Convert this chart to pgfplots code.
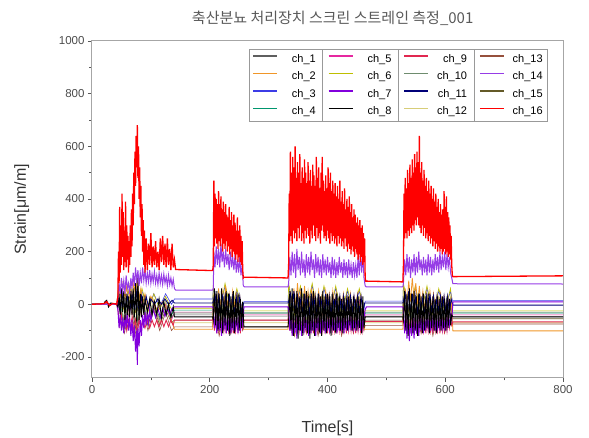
\documentclass[border=0pt]{standalone}
\usepackage{fontspec}
\setmainfont{Liberation Sans}
\newfontfamily\cjk{Noto Sans CJK KR}
\usepackage{pgfplots}
\usepackage{pgfplotstable}
\pgfplotsset{compat=1.18}

\definecolor{chA}{RGB}{95,95,95}
\definecolor{chB}{RGB}{240,150,40}
\definecolor{chC}{RGB}{60,60,230}
\definecolor{chD}{RGB}{0,150,110}
\definecolor{chE}{RGB}{230,40,160}
\definecolor{chF}{RGB}{190,190,0}
\definecolor{chG}{RGB}{130,0,220}
\definecolor{chH}{RGB}{0,0,0}
\definecolor{chI}{RGB}{225,40,80}
\definecolor{chJ}{RGB}{110,140,110}
\definecolor{chK}{RGB}{0,0,120}
\definecolor{chL}{RGB}{215,205,120}
\definecolor{chM}{RGB}{150,80,60}
\definecolor{chN}{RGB}{150,60,230}
\definecolor{chO}{RGB}{100,90,40}
\definecolor{chP}{RGB}{255,0,0}

% minor channels: t, ch1 ch3 ch4 ch5 ch6 ch10 ch12 ch13 ch15
\pgfplotstableread{
t    a    b    c    d    e    f    g    h    i
0    0    0    0    0    0    0    0    0    0
42   0    0    0    0    0    0    0    0    0
45   30   60   20   20   70   10   40   0    10
55  -70  -20  -60  -90  -30  -70  -60  -110 -90
65   40   70   30   10   80   20   30  -10   20
75  -80  -30  -70  -100 -40  -80  -70  -120 -100
85   20   50   10   20   60   0    40   0    0
95  -60  -20  -50  -80  -30  -60  -60  -100 -80
105  10   40   0    0    40  -10   20  -20  -10
115 -60  -10  -50  -70  -20  -60  -70  -100 -80
125  10   40   0    0    30  -10   10  -30  -20
135 -50   0   -40  -60  -20  -50  -70  -100 -70
140 -40   20  -22  -30  -15  -33  -70  -86  -60
205 -40   20  -22  -30  -15  -33  -70  -86  -60
206  30   60   20   20   70   10   40   0    10
216 -80  -30  -70  -100 -40  -70  -70  -120 -100
226  40   70   30   10   80   20   30  -10   20
236 -70  -20  -60  -90  -30  -80  -60  -110 -90
246  30   50   20   20   60   10   40   0    10
256 -60  -20  -50  -80  -30  -60  -60  -100 -80
258 -45   10  -33  -40  -25  -33  -70  -86  -60
333 -45   10  -33  -40  -25  -33  -70  -86  -60
334  40   70   30   20   80   20   40   0    20
344 -80  -30  -70  -100 -40  -80  -70  -120 -100
354  30   60   20   10   70   10   30  -10   10
364 -70  -20  -60  -90  -30  -70  -60  -110 -90
374  40   70   30   20   80   20   40   0    20
384 -80  -30  -70  -100 -40  -80  -70  -120 -100
394  30   60   20   10   70   10   30  -10   10
404 -70  -20  -60  -90  -30  -70  -60  -110 -90
414  30   60   20   20   70   10   40   0    10
424 -80  -30  -70  -100 -40  -80  -70  -120 -100
434  20   50   10   10   60   0    30  -10   0
444 -70  -20  -60  -90  -30  -70  -60  -110 -90
454  20   50   10   10   60   0    30  -10   0
462 -60  -20  -50  -80  -30  -60  -60  -100 -80
464 -45   12  -33  -40  -25  -30  -70  -80  -60
528 -45   12  -33  -40  -25  -30  -70  -80  -60
529  40   70   30   20   80   20   40   0    20
539 -80  -30  -70  -100 -40  -80  -70  -120 -100
549  30   60   20   10   70   10   30  -10   10
559 -70  -20  -60  -90  -30  -70  -60  -110 -90
569  30   60   20   20   70   10   40   0    10
579 -80  -30  -70  -100 -40  -80  -70  -120 -100
589  20   50   10   10   60   0    30  -10   0
599 -70  -20  -60  -90  -30  -70  -60  -110 -90
609  20   50   10   10   60   0    30  -10   0
612 -48   15  -33  -40  -25  -30  -70  -75  -55
800 -48   15  -33  -40  -25  -30  -70  -75  -55
}\minor

\begin{document}
\begin{tikzpicture}
\begin{axis}[
  scale only axis, width=471pt, height=337pt,
  xmin=0, xmax=800, ymin=-280, ymax=1000,
  xtick={0,200,...,800}, ytick={-200,0,...,1000},
  minor x tick num=1, minor y tick num=1,
  tick align=outside, xtick pos=bottom, ytick pos=left,
  major tick length=4pt, minor tick length=2.5pt,
  axis line style={gray!70, line width=1pt},
  every tick/.style={gray!70!black, line width=0.6pt},
  tick label style={font=\fontsize{11.5}{13}\selectfont, text=black!70},
  /pgf/number format/assume math mode=true,
  /pgf/number format/1000 sep={},
  xlabel={Time[s]}, ylabel={Strain[μm/m]},
  label style={font=\fontsize{16}{18}\selectfont, text=black!80},
  xlabel style={at={(axis description cs:0.5,-0.148)}, anchor=center, yshift=0pt},
  ylabel style={at={(axis description cs:-0.149,0.5)}, anchor=center, yshift=0pt},
  title={\cjk 축산분뇨 처리장치 스크린 스트레인 측정\_001},
  title style={font=\fontsize{15}{17}\selectfont, text=black!65,
    at={(axis description cs:0.511,1.05)}, anchor=center, yshift=0pt},
  legend columns=4,
  legend image code/.code={\draw[#1, line width=1.6pt] (0pt,3pt) -- (24pt,3pt);},
  legend style={at={(rel axis cs:0.333,0.976)}, anchor=north west, name=leg,
    draw=gray!80, line width=0.8pt, font=\fontsize{11}{12}\selectfont,
    inner sep=3pt, row sep=4pt,
    /tikz/every even column/.append style={column sep=10pt}},
  every axis plot/.append style={line width=0.6pt},
]
% minor channels
\addplot[chA, forget plot] table[x=t, y=a] {\minor};
\addplot[chC, forget plot] table[x=t, y=b] {\minor};
\addplot[chD, forget plot] table[x=t, y=c] {\minor};
\addplot[chE, forget plot] table[x=t, y=d] {\minor};
\addplot[chF, forget plot] table[x=t, y=e] {\minor};
\addplot[chJ, forget plot] table[x=t, y=f] {\minor};
\addplot[chL, forget plot] table[x=t, y=g] {\minor};
\addplot[chM, forget plot] table[x=t, y=h] {\minor};
\addplot[chO, forget plot] table[x=t, y=i] {\minor};

% ch_2 orange
\addplot[chB, line width=0.8pt, forget plot] coordinates {
(0,0) (42,0) (44,10) (47,60) (50,10) (53,90) (56,20) (59,70) (62,10) (65,60) (68,20) (71,80) (74,30) (77,110) (80,20) (83,60) (86,0) (90,40) (95,-10) (100,30) (110,-20) (120,10) (130,-30) (140,-95) (205,-95)
(206,-40) (209,40) (212,-20) (215,60) (218,-10) (221,50) (224,-20) (227,70) (230,-10) (233,40) (236,-20) (239,50) (242,-10) (245,40) (248,-20) (251,30) (254,-30) (257,-95) (333,-95)
(334,-40) (337,50) (340,-20) (343,60) (346,-10) (349,80) (352,0) (355,60) (358,-20) (361,70) (364,-10) (367,50) (370,-20) (373,60) (376,-10) (379,40) (382,-20) (385,50) (388,-10) (391,40) (394,-20) (397,50) (400,-10) (403,40) (406,-20) (409,50) (412,-10) (415,40) (418,-20) (421,30) (424,-10) (427,40) (430,-20) (433,30) (436,-10) (439,40) (442,-20) (445,30) (448,-10) (451,40) (454,-20) (457,30) (460,-10) (463,-95) (528,-95)
(529,-40) (532,60) (535,0) (538,90) (541,10) (544,100) (547,20) (550,80) (553,0) (556,70) (559,-10) (562,50) (565,-20) (568,40) (571,-10) (574,50) (577,-20) (580,40) (583,-10) (586,30) (589,-20) (592,40) (595,-10) (598,30) (601,-20) (604,30) (607,-10) (610,20) (613,-101) (800,-101)
};

% ch_9 lower red band
\addplot[chI, line width=0.9pt, forget plot] coordinates {
(0,0) (42,0) (44,-20) (47,-80) (50,-40) (53,-90) (56,-50) (59,-100) (62,-60) (65,-90) (68,-50) (71,-100) (74,-60) (77,-110) (80,-60) (83,-90) (86,-60) (90,-90) (94,-60) (98,-90) (102,-60) (106,-85) (110,-60) (114,-85) (118,-60) (122,-85) (126,-60) (130,-85) (134,-60) (138,-80) (140,-60) (205,-60)
(206,-50) (208,-100) (210,-50) (212,-110) (214,-60) (216,-100) (218,-50) (220,-110) (222,-60) (224,-100) (226,-50) (228,-110) (230,-60) (232,-100) (234,-50) (236,-100) (238,-60) (240,-110) (242,-50) (244,-100) (246,-60) (248,-100) (250,-50) (252,-110) (254,-60) (256,-90) (258,-60) (333,-60)
(334,-50) (336,-100) (338,-40) (340,-110) (342,-60) (344,-100) (346,-50) (348,-110) (350,-60) (352,-100) (354,-50) (356,-110) (358,-60) (360,-100) (362,-50) (364,-100) (366,-60) (368,-110) (370,-50) (372,-100) (374,-60) (376,-110) (378,-50) (380,-100) (382,-60) (384,-100) (386,-50) (388,-110) (390,-60) (392,-100) (394,-50) (396,-100) (398,-60) (400,-110) (402,-50) (404,-100) (406,-60) (408,-100) (410,-50) (412,-100) (414,-60) (416,-110) (418,-50) (420,-100) (422,-60) (424,-100) (426,-50) (428,-100) (430,-60) (432,-110) (434,-50) (436,-100) (438,-60) (440,-100) (442,-50) (444,-100) (446,-60) (448,-110) (450,-50) (452,-100) (454,-60) (456,-100) (458,-50) (460,-100) (462,-60) (464,-65) (528,-65)
(529,-50) (531,-100) (533,-50) (535,-110) (537,-60) (539,-100) (541,-50) (543,-110) (545,-60) (547,-100) (549,-50) (551,-100) (553,-60) (555,-110) (557,-50) (559,-100) (561,-60) (563,-100) (565,-50) (567,-110) (569,-60) (571,-100) (573,-50) (575,-100) (577,-60) (579,-110) (581,-50) (583,-100) (585,-60) (587,-100) (589,-50) (591,-110) (593,-60) (595,-100) (597,-50) (599,-100) (601,-60) (603,-100) (605,-50) (607,-90) (609,-60) (611,-80) (613,-67) (800,-67)
};

% ch_11 navy
\addplot[chK, line width=0.9pt, forget plot] coordinates {
(0,0) (42,0) (44,10) (48,-30) (52,40) (56,-20) (60,30) (64,-30) (68,40) (72,-20) (76,50) (80,-30) (84,30) (88,-20) (92,30) (96,-10) (100,20) (106,0) (112,20) (118,0) (124,20) (130,0) (136,15) (140,5) (205,5)
(206,10) (209,40) (212,-30) (215,30) (218,-40) (221,40) (224,-30) (227,30) (230,-40) (233,40) (236,-30) (239,30) (242,-40) (245,30) (248,-30) (251,30) (254,-30) (257,5) (333,5)
(334,10) (337,40) (340,-30) (343,50) (346,-40) (349,40) (352,-30) (355,30) (358,-40) (361,40) (364,-30) (367,30) (370,-40) (373,40) (376,-30) (379,30) (382,-40) (385,40) (388,-30) (391,30) (394,-40) (397,40) (400,-30) (403,30) (406,-40) (409,30) (412,-30) (415,40) (418,-30) (421,30) (424,-40) (427,30) (430,-30) (433,30) (436,-40) (439,30) (442,-30) (445,30) (448,-30) (451,30) (454,-30) (457,30) (460,-30) (463,5) (528,5)
(529,10) (532,40) (535,-30) (538,50) (541,-40) (544,40) (547,-30) (550,30) (553,-40) (556,40) (559,-30) (562,30) (565,-40) (568,30) (571,-30) (574,40) (577,-30) (580,30) (583,-40) (586,30) (589,-30) (592,30) (595,-30) (598,30) (601,-30) (604,30) (607,-30) (610,20) (613,-3) (800,-3)
};

% ch_7 violet, negative band
\addplot[chG, line width=1pt, forget plot] coordinates {
(0,0) (42,0) (44,-20) (46,-90) (48,-40) (50,-100) (52,-50) (54,-110) (56,-40) (58,-90) (60,-30) (62,-100) (64,-50) (66,-120) (68,-60) (70,-140) (72,-80) (74,-180) (76,-100) (77,-230) (78,-90) (80,-160) (82,-60) (84,-120) (86,-40) (88,-90) (90,-30) (92,-80) (94,-30) (96,-70) (98,-20) (100,-60) (104,-20) (108,-50) (112,-15) (116,-50) (120,-15) (124,-45) (128,-15) (132,-40) (136,-15) (140,-10) (205,-10)
(206,-20) (208,-90) (210,-40) (212,-110) (214,-50) (216,-100) (218,-40) (220,-120) (222,-50) (224,-100) (226,-40) (228,-110) (230,-50) (232,-90) (234,-40) (236,-110) (238,-50) (240,-100) (242,-40) (244,-90) (246,-50) (248,-110) (250,-40) (252,-100) (254,-50) (256,-80) (258,-10) (333,-10)
(334,-20) (336,-100) (338,-40) (340,-120) (342,-50) (344,-110) (346,-40) (348,-130) (350,-60) (352,-100) (354,-40) (356,-120) (358,-50) (360,-110) (362,-40) (364,-100) (366,-50) (368,-120) (370,-40) (372,-110) (374,-50) (376,-100) (378,-40) (380,-120) (382,-50) (384,-100) (386,-40) (388,-110) (390,-50) (392,-90) (394,-40) (396,-110) (398,-50) (400,-100) (402,-40) (404,-110) (406,-50) (408,-90) (410,-40) (412,-100) (414,-50) (416,-110) (418,-40) (420,-100) (422,-50) (424,-90) (426,-40) (428,-110) (430,-50) (432,-100) (434,-40) (436,-90) (438,-50) (440,-100) (442,-40) (444,-90) (446,-50) (448,-100) (450,-40) (452,-90) (454,-50) (456,-100) (458,-40) (460,-90) (462,-50) (464,-20) (466,-10) (528,-10)
(529,-20) (531,-110) (533,-40) (535,-130) (537,-50) (539,-140) (541,-60) (543,-120) (545,-40) (547,-130) (549,-50) (551,-110) (553,-40) (555,-120) (557,-50) (559,-100) (561,-40) (563,-110) (565,-50) (567,-100) (569,-40) (571,-90) (573,-50) (575,-100) (577,-40) (579,-90) (581,-50) (583,-100) (585,-40) (587,-90) (589,-50) (591,-100) (593,-40) (595,-90) (597,-50) (599,-100) (601,-40) (603,-90) (605,-50) (607,-80) (609,-40) (611,-60) (613,9) (800,9)
};

% ch_8 black
\addplot[chH, line width=0.9pt, forget plot] coordinates {
(0,0) (20,0) (22,10) (25,15) (28,-10) (32,5) (42,0) (44,-10) (46,40) (48,-40) (50,60) (52,-30) (54,50) (56,-60) (58,40) (60,-40) (62,30) (64,-50) (66,50) (68,-40) (70,60) (72,-50) (74,80) (76,-70) (78,100) (80,-60) (82,40) (84,-50) (86,30) (88,-40) (90,20) (94,-30) (98,20) (102,-40) (106,10) (110,-40) (114,20) (118,-50) (122,10) (126,-40) (130,0) (134,-50) (138,-10) (140,-48) (205,-48)
(206,-60) (208,60) (210,-80) (212,50) (214,-100) (216,40) (218,-90) (220,60) (222,-110) (224,30) (226,-80) (228,50) (230,-100) (232,40) (234,-120) (236,30) (238,-90) (240,50) (242,-110) (244,20) (246,-80) (248,40) (250,-100) (252,20) (254,-90) (256,10) (258,-86) (333,-86)
(334,-60) (336,50) (338,-100) (340,60) (342,-120) (344,40) (346,-90) (348,50) (350,-130) (352,30) (354,-100) (356,60) (358,-120) (360,40) (362,-90) (364,50) (366,-110) (368,30) (370,-130) (372,40) (374,-100) (376,50) (378,-120) (380,30) (382,-90) (384,40) (386,-110) (388,30) (390,-120) (392,50) (394,-100) (396,30) (398,-110) (400,40) (402,-90) (404,30) (406,-120) (408,40) (410,-100) (412,20) (414,-110) (416,40) (418,-90) (420,30) (422,-100) (424,20) (426,-110) (428,30) (430,-90) (432,20) (434,-100) (436,30) (438,-80) (440,20) (442,-100) (444,30) (446,-90) (448,20) (450,-100) (452,30) (454,-90) (456,20) (458,-110) (460,30) (462,-90) (464,-48) (528,-48)
(529,-60) (531,50) (533,-100) (535,40) (537,-120) (539,60) (541,-90) (543,40) (545,-110) (547,50) (549,-100) (551,30) (553,-120) (555,40) (557,-90) (559,30) (561,-110) (563,40) (565,-100) (567,30) (569,-90) (571,40) (573,-110) (575,20) (577,-90) (579,30) (581,-100) (583,20) (585,-110) (587,30) (589,-90) (591,20) (593,-100) (595,30) (597,-90) (599,20) (601,-100) (603,30) (605,-90) (607,20) (609,-80) (611,-40) (613,-48) (800,-48)
};

% ch_14 purple, upper band
\addplot[chN, line width=1pt, forget plot] coordinates {
(0,0) (42,0) (44,20) (46,80) (48,40) (50,100) (52,50) (54,90) (56,40) (58,110) (60,60) (62,80) (64,40) (66,100) (68,60) (70,120) (72,70) (74,140) (76,80) (78,130) (80,70) (82,120) (84,80) (86,140) (88,90) (90,130) (92,80) (94,120) (96,85) (98,130) (100,80) (102,115) (104,85) (106,125) (108,80) (110,110) (112,75) (114,120) (116,80) (118,110) (120,75) (122,115) (124,80) (126,105) (128,70) (130,110) (132,75) (134,100) (136,70) (138,95) (140,60) (142,54) (205,54)
(206,60) (207,200) (209,140) (211,220) (213,150) (215,210) (217,140) (219,230) (221,160) (223,200) (225,140) (227,210) (229,150) (231,190) (233,130) (235,200) (237,140) (239,180) (241,130) (243,190) (245,120) (247,170) (249,120) (251,180) (253,110) (255,150) (257,70) (259,66) (333,66)
(334,80) (336,180) (338,110) (340,200) (342,120) (344,190) (346,100) (348,210) (350,130) (352,180) (354,110) (356,200) (358,120) (360,170) (362,100) (364,190) (366,120) (368,180) (370,110) (372,200) (374,130) (376,170) (378,100) (380,190) (382,120) (384,180) (386,110) (388,170) (390,100) (392,190) (394,120) (396,170) (398,110) (400,180) (402,120) (404,160) (406,100) (408,180) (410,110) (412,170) (414,100) (416,160) (418,110) (420,180) (422,120) (424,160) (426,100) (428,170) (430,110) (432,160) (434,100) (436,170) (438,110) (440,150) (442,100) (444,160) (446,110) (448,150) (450,100) (452,180) (454,110) (456,200) (458,120) (460,190) (462,100) (464,70) (466,66) (528,66)
(529,80) (531,170) (533,110) (535,190) (537,120) (539,180) (541,100) (543,170) (545,120) (547,190) (549,110) (551,180) (553,120) (555,200) (557,130) (559,170) (561,110) (563,180) (565,120) (567,170) (569,110) (571,190) (573,120) (575,180) (577,110) (579,170) (581,120) (583,190) (585,130) (587,180) (589,120) (591,200) (593,130) (595,180) (597,140) (599,200) (601,130) (603,190) (605,140) (607,180) (609,120) (611,100) (613,78) (800,77)
};

% ch_16 red, dominant
\addplot[chP, line width=1.3pt, forget plot] coordinates {
(0,0) (20,2) (25,10) (30,-5) (35,3) (42,0)
(44,30) (45,200) (46,80) (47,370) (48,120) (49,300) (50,150) (51,420) (52,180) (53,350) (54,130) (55,280) (56,160) (57,390) (58,140) (59,300) (60,170) (61,260) (62,120) (63,240) (64,150) (65,300) (66,180) (67,360) (68,220) (69,420) (70,300) (71,500) (72,380) (73,580) (74,450) (75,640) (76,520) (77,680) (78,480) (79,600) (80,400) (81,520) (82,330) (83,450) (84,260) (85,380) (86,200) (87,320) (88,150) (89,280) (90,120) (92,250) (94,130) (96,230) (98,150) (100,270) (102,140) (104,220) (106,150) (108,240) (110,140) (112,200) (114,130) (116,250) (118,160) (120,260) (122,150) (124,230) (126,140) (128,250) (130,150) (132,210) (134,130) (136,230) (138,140) (140,170)
(142,132) (205,128)
(206,150) (207,470) (208,220) (209,420) (210,250) (211,400) (212,230) (213,380) (214,210) (215,430) (216,240) (217,380) (218,220) (219,410) (220,250) (221,360) (222,200) (223,390) (224,230) (225,350) (226,210) (227,380) (228,240) (229,340) (230,200) (231,330) (232,220) (233,370) (234,190) (235,320) (236,210) (237,350) (238,180) (239,300) (240,200) (241,340) (242,190) (243,310) (244,170) (245,280) (246,190) (247,330) (248,160) (249,280) (250,180) (251,300) (252,160) (253,260) (254,150) (255,240) (256,130) (257,100)
(258,103) (333,100)
(334,150) (335,420) (336,240) (337,580) (338,260) (339,500) (340,230) (341,560) (342,280) (343,520) (344,250) (345,600) (346,270) (347,480) (348,240) (349,540) (350,290) (351,500) (352,250) (353,570) (354,300) (355,460) (356,240) (357,520) (358,270) (359,480) (360,230) (361,550) (362,280) (363,500) (364,250) (365,460) (366,290) (367,540) (368,260) (369,470) (370,230) (371,510) (372,280) (373,450) (374,250) (375,530) (376,300) (377,490) (378,260) (379,450) (380,240) (381,560) (382,290) (383,480) (384,250) (385,520) (386,270) (387,440) (388,230) (389,500) (390,280) (391,560) (392,300) (393,470) (394,250) (395,430) (396,260) (397,490) (398,240) (399,440) (400,280) (401,520) (402,250) (403,460) (404,230) (405,500) (406,270) (407,430) (408,240) (409,470) (410,260) (411,420) (412,230) (413,460) (414,250) (415,410) (416,220) (417,450) (418,260) (419,400) (420,230) (421,470) (422,250) (423,390) (424,220) (425,430) (426,240) (427,380) (428,210) (429,440) (430,250) (431,360) (432,220) (433,400) (434,200) (435,370) (436,230) (437,410) (438,210) (439,350) (440,190) (441,380) (442,220) (443,330) (444,200) (445,360) (446,180) (447,340) (448,210) (449,310) (450,190) (451,330) (452,170) (453,300) (454,190) (455,320) (456,160) (457,290) (458,180) (459,300) (460,150) (461,270) (462,160) (463,250) (464,100)
(465,88) (528,85)
(529,150) (530,420) (531,250) (532,480) (533,270) (534,440) (535,250) (536,510) (537,280) (538,460) (539,260) (540,530) (541,290) (542,480) (543,270) (544,550) (545,300) (546,500) (547,280) (548,570) (549,320) (550,520) (551,300) (552,580) (553,330) (554,540) (555,300) (556,640) (557,290) (558,500) (559,270) (560,540) (561,300) (562,470) (563,260) (564,510) (565,290) (566,450) (567,250) (568,480) (569,270) (570,430) (571,240) (572,470) (573,260) (574,420) (575,230) (576,450) (577,250) (578,400) (579,220) (580,440) (581,240) (582,390) (583,210) (584,420) (585,230) (586,370) (587,200) (588,400) (589,220) (590,350) (591,200) (592,380) (593,210) (594,340) (595,190) (596,360) (597,200) (598,430) (599,210) (600,370) (601,190) (602,410) (603,200) (604,350) (605,180) (606,330) (607,190) (608,300) (609,170) (610,260) (611,150) (612,110)
(613,105) (800,108)
};

% legend, filled row by row so that each column holds four channels
\addlegendimage{color=chA}\addlegendentry{\makebox[36pt][r]{ch\_1}}
\addlegendimage{color=chE}\addlegendentry{\makebox[36pt][r]{ch\_5}}
\addlegendimage{color=chI}\addlegendentry{\makebox[36pt][r]{ch\_9}}
\addlegendimage{color=chM}\addlegendentry{\makebox[36pt][r]{ch\_13}}
\addlegendimage{color=chB}\addlegendentry{\makebox[36pt][r]{ch\_2}}
\addlegendimage{color=chF}\addlegendentry{\makebox[36pt][r]{ch\_6}}
\addlegendimage{color=chJ}\addlegendentry{\makebox[36pt][r]{ch\_10}}
\addlegendimage{color=chN}\addlegendentry{\makebox[36pt][r]{ch\_14}}
\addlegendimage{color=chC}\addlegendentry{\makebox[36pt][r]{ch\_3}}
\addlegendimage{color=chG}\addlegendentry{\makebox[36pt][r]{ch\_7}}
\addlegendimage{color=chK}\addlegendentry{\makebox[36pt][r]{ch\_11}}
\addlegendimage{color=chO}\addlegendentry{\makebox[36pt][r]{ch\_15}}
\addlegendimage{color=chD}\addlegendentry{\makebox[36pt][r]{ch\_4}}
\addlegendimage{color=chH}\addlegendentry{\makebox[36pt][r]{ch\_8}}
\addlegendimage{color=chL}\addlegendentry{\makebox[36pt][r]{ch\_12}}
\addlegendimage{color=chP}\addlegendentry{\makebox[36pt][r]{ch\_16}}
\end{axis}
% column rules inside the legend box
\foreach \dx in {74pt,150pt,226pt}
  \draw[gray!80, line width=0.8pt] ([xshift=\dx]leg.north west) -- ([xshift=\dx]leg.south west);
\pgfresetboundingbox
\useasboundingbox (current axis.south west) ++(-92pt,-60pt) rectangle ++(589pt,438pt);
\end{tikzpicture}
\end{document}
